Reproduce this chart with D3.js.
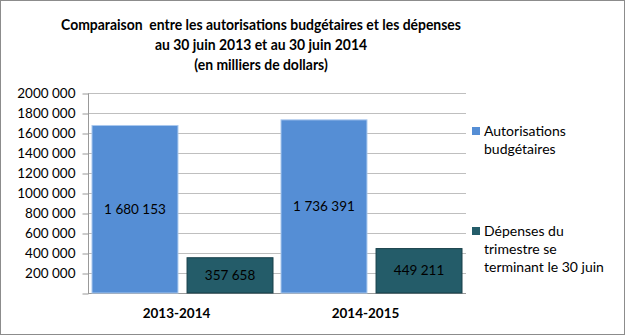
<!DOCTYPE html>
<html>
<head>
<meta charset="utf-8">
<script src="https://cdn.jsdelivr.net/npm/d3@7"></script>
<style>
  html, body { margin: 0; padding: 0; background: #fff; }
  svg { display: block; font-family: Lato, "Liberation Sans", sans-serif; }
  .title text { white-space: pre; }
</style>
</head>
<body>
<svg id="chart" width="625" height="335"></svg>
<script>
// Data (thousands of dollars)
const categories = ["2013-2014", "2014-2015"];
const seriesNames = ["Autorisations budgétaires", "Dépenses du trimestre se terminant le 30 juin"];
const autorisations = [1680153, 1736391];
const depenses = [357658, 449211];
const yTicks = [200000, 400000, 600000, 800000, 1000000, 1200000, 1400000, 1600000, 1800000, 2000000];
const yTickLabels = ["200 000", "400 000", "600 000", "800 000", "1000 000", "1200 000", "1400 000", "1600 000", "1800 000", "2000 000"];
const titleLines = [
  "Comparaison  entre les autorisations budgétaires et les dépenses",
  "au 30 juin 2013 et au 30 juin 2014",
  "(en milliers de dollars)"
];
const legendLines = [["Autorisations", "budgétaires"], ["Dépenses du", "trimestre se", "terminant le 30 juin"]];

const colors = ["#558ed5", "#245c69"];
const strokes = ["#a9c8ee", "#173f49"];

const svg = d3.select("#chart");
const W = 625, H = 335;

// outer frame
svg.append("rect").attr("x", 0.5).attr("y", 0.5).attr("width", W - 1).attr("height", H - 1)
  .attr("fill", "#fff").attr("stroke", "#8c8c8c").attr("stroke-width", 1);

const plot = { left: 88, right: 466, top: 93, bottom: 293 };

const y = d3.scaleLinear().domain([0, 2000000]).range([plot.bottom, plot.top]);
const x0 = d3.scaleBand().domain(categories).range([plot.left, plot.right]);
const x1 = d3.scaleBand().domain([0, 1]).range([3.5, x0.bandwidth() - 3.5]).paddingInner(0.085);

const fmt = v => d3.format(",")(v).replace(/,/g, " ");
const tickLabel = d => { const i = yTicks.indexOf(d); return i < 0 ? "" : yTickLabels[i]; };

// gridlines
svg.append("g").selectAll("line").data(yTicks).join("line")
  .attr("x1", plot.left).attr("x2", plot.right)
  .attr("y1", d => Math.round(y(d)) + 0.5).attr("y2", d => Math.round(y(d)) + 0.5)
  .attr("stroke", "#bfbfbf").attr("stroke-width", 1);

// y axis
const yAxis = svg.append("g").attr("transform", `translate(${plot.left + 0.5},0.5)`)
  .call(d3.axisLeft(y).tickValues([0].concat(yTicks)).tickSize(6).tickPadding(7)
    .tickFormat(tickLabel));
yAxis.select(".domain").attr("stroke", "#999").attr("d", `M0,${plot.top}V${plot.bottom}`);
yAxis.selectAll(".tick line").attr("stroke", "#999");
yAxis.selectAll(".tick text").attr("fill", "#000").attr("font-size", 13.5)
  .attr("font-family", "Lato, sans-serif");

// baseline
svg.append("line").attr("x1", plot.left).attr("x2", plot.right)
  .attr("y1", plot.bottom + 0.5).attr("y2", plot.bottom + 0.5).attr("stroke", "#999");

// bars
const rows = categories.map((c, i) => ({ cat: c, vals: [autorisations[i], depenses[i]] }));
const groups = svg.append("g").selectAll("g").data(rows).join("g")
  .attr("transform", d => `translate(${x0(d.cat)},0)`);

groups.selectAll("rect").data(d => d.vals.map((v, k) => ({ v, k }))).join("rect")
  .attr("x", d => x1(d.k) + 0.5)
  .attr("y", d => y(d.v) + 0.5)
  .attr("width", x1.bandwidth() - 1)
  .attr("height", d => y(0) - y(d.v) - 0.5)
  .attr("fill", d => colors[d.k])
  .attr("stroke", d => strokes[d.k]).attr("stroke-width", 1);

groups.selectAll("text.val").data(d => d.vals.map((v, k) => ({ v, k }))).join("text")
  .attr("class", "val")
  .attr("x", d => x1(d.k) + x1.bandwidth() / 2)
  .attr("y", d => (y(d.v) + y(0)) / 2)
  .attr("dy", "0.35em")
  .attr("text-anchor", "middle")
  .attr("font-size", 13.5).attr("fill", "#000")
  .text(d => fmt(d.v));

// category labels
svg.append("g").selectAll("text").data(categories).join("text")
  .attr("x", d => x0(d) + x0.bandwidth() / 2 - 6)
  .attr("y", 313).attr("dy", "0.35em")
  .attr("text-anchor", "middle").attr("font-weight", "bold").attr("font-size", 13.5)
  .text(d => d);

// title (slightly condensed)
svg.append("g").attr("class", "title").attr("transform", "translate(261,0) scale(0.9,1)")
  .selectAll("text").data(titleLines).join("text")
  .attr("x", 0).attr("y", (d, i) => 25 + i * 20).attr("dy", "0.35em")
  .attr("text-anchor", "middle").attr("font-weight", "bold").attr("font-size", 15.5)
  .text(d => d);

// legend
const legendY = [131, 231];
const leg = svg.append("g").selectAll("g").data(seriesNames).join("g")
  .attr("transform", (d, i) => `translate(472,${legendY[i]})`);
leg.append("rect").attr("x", 0).attr("y", -4).attr("width", 8).attr("height", 8)
  .attr("fill", (d, i) => colors[i]);
leg.each(function (d, i) {
  d3.select(this).selectAll("text").data(legendLines[i]).join("text")
    .attr("x", 12).attr("y", (t, j) => j * 18).attr("dy", "0.35em")
    .attr("font-size", 14).attr("fill", "#000")
    .text(t => t);
});
</script>
</body>
</html>
